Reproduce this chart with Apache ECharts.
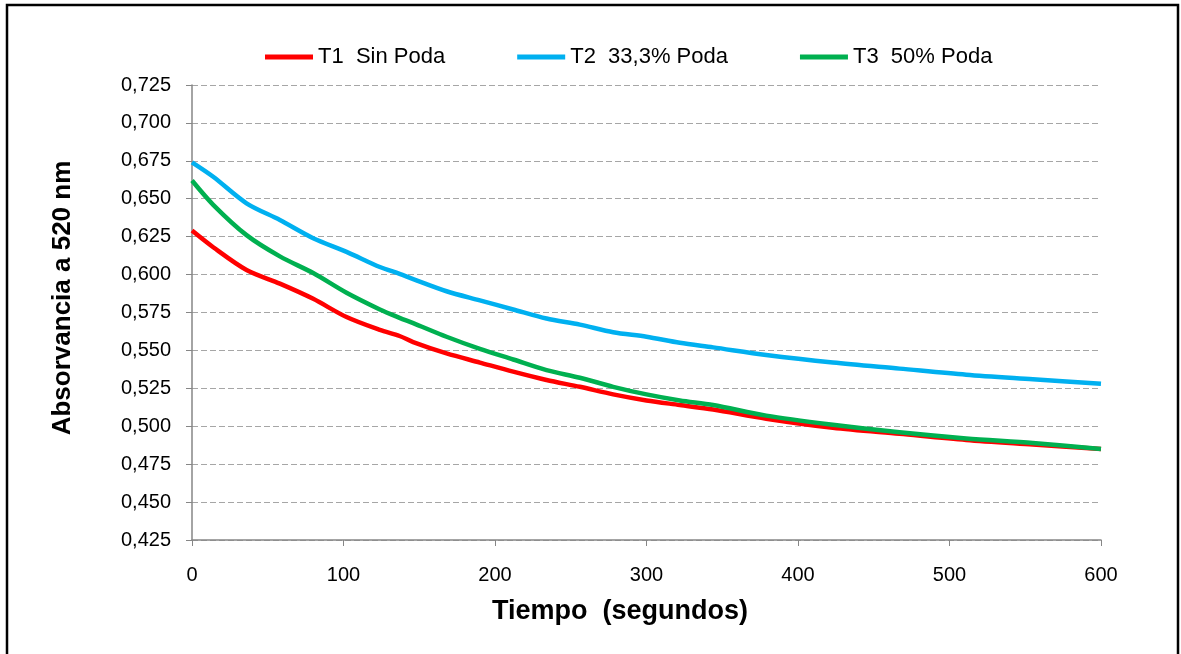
<!DOCTYPE html>
<html>
<head>
<meta charset="utf-8">
<script src="https://cdn.jsdelivr.net/npm/echarts@6/dist/echarts.min.js"></script>
<style>
html,body{margin:0;padding:0;background:#fff;}
#chart{width:1181px;height:654px;}
</style>
</head>
<body>
<div id="chart"></div>
<script>
// Time (s)
const tiempo = [0,14,36,58,80,102,124,137,146,168,190,212,234,256,278,300,322,344,379,423,467,511,555,600];
// T1 Sin Poda
const t1 = [0.629,0.618,0.603,0.594,0.584,0.572,0.5635,0.5595,0.5555,0.548,0.542,0.536,0.5305,0.526,0.521,0.517,0.514,0.511,0.505,0.499,0.495,0.491,0.488,0.485];
// T2 33,3% Poda
const t2 = [0.674,0.6645,0.647,0.636,0.624,0.615,0.605,0.6005,0.597,0.589,0.583,0.577,0.571,0.567,0.562,0.559,0.555,0.552,0.547,0.542,0.538,0.534,0.531,0.528];
// T3 50% Poda
const t3 = [0.662,0.646,0.626,0.612,0.601,0.588,0.577,0.5715,0.568,0.559,0.551,0.544,0.537,0.532,0.526,0.521,0.517,0.514,0.507,0.501,0.496,0.492,0.489,0.485];
const seriesNames = ['T1  Sin Poda','T2  33,3% Poda','T3  50% Poda'];
const colors = ['#ff0000','#00b0f0','#00b050'];
const xTitle = 'Tiempo  (segundos)';
const yTitle = 'Absorvancia a 520 nm';

const FONT = 'Liberation Sans, Arial, sans-serif';
const pairs = arr => tiempo.map((t,i)=>[t,arr[i]]);
const chart = echarts.init(document.getElementById('chart'), null, {renderer:'canvas'});
const mk = (name, arr, color) => ({
  name, type:'line', data:pairs(arr), smooth:0.3,
  symbol:'circle', symbolSize:5, showSymbol:false,
  lineStyle:{color, width:4.5}, itemStyle:{color},
  animation:false
});
chart.setOption({
  animation:false,
  backgroundColor:'#fff',
  graphic:[
    {type:'rect', shape:{x:7,y:5,width:1171,height:680}, style:{fill:'none', stroke:'#000', lineWidth:2.5}, silent:true},
    {type:'text', x:620, y:612, style:{text:xTitle, font:'bold 27px ' + FONT, fill:'#000', align:'center', verticalAlign:'middle'}, silent:true},
    {type:'text', x:63, y:298, rotation:Math.PI/2, style:{text:yTitle, font:'bold 26px ' + FONT, fill:'#000', align:'center', verticalAlign:'middle'}, silent:true}
  ],
  legend:{
    top:41, left:260, itemWidth:48, itemHeight:5, itemGap:72, icon:'rect',
    textStyle:{fontFamily:FONT, fontSize:22, color:'#000'},
    data:seriesNames
  },
  grid:{left:192, right:80, top:85, bottom:114},
  xAxis:{
    type:'value', min:0, max:600, interval:100,
    axisLine:{lineStyle:{color:'#868686', width:1.5}},
    axisTick:{show:true, length:6, lineStyle:{color:'#868686'}},
    axisLabel:{fontFamily:FONT, fontSize:20, color:'#000', margin:25},
    splitLine:{show:false}
  },
  yAxis:{
    type:'value', min:0.425, max:0.725, interval:0.025,
    axisLine:{show:true, lineStyle:{color:'#868686', width:1.5}},
    axisTick:{show:true, length:6, lineStyle:{color:'#868686'}},
    axisLabel:{fontFamily:FONT, fontSize:20, color:'#000', margin:21,
      formatter:v=>v.toFixed(3).replace('.',',')},
    splitLine:{show:true, lineStyle:{color:'#a6a6a6', type:[6,3], width:1}}
  },
  series:[mk(seriesNames[0],t1,colors[0]), mk(seriesNames[1],t2,colors[1]), mk(seriesNames[2],t3,colors[2])]
});
</script>
</body>
</html>
